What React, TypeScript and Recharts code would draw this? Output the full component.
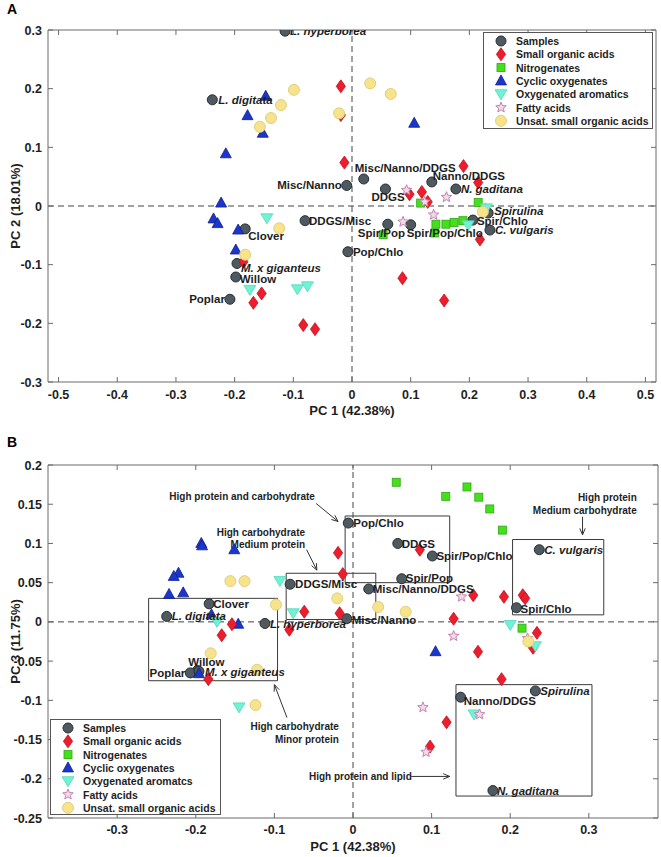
import React from 'react'
import {
  ScatterChart,
  Scatter,
  XAxis,
  YAxis,
  ReferenceLine,
  ReferenceArea,
  ReferenceDot
} from 'recharts'

const FONT = '"Liberation Sans", Arial, Helvetica, sans-serif'
const AXIS = '#6a6a6a'
const TXT = '#1e1e1e'

// ---------- panel A: PC1 vs PC2 ----------
const samplesA = [
  { name: 'L. hyperborea', x: -0.114, y: 0.298 },
  { name: 'L. digitata', x: -0.238, y: 0.181 },
  { name: 'Misc/Nanno', x: -0.009, y: 0.035 },
  { name: 'Misc/Nanno/DDGS', x: 0.02, y: 0.046 },
  { name: 'DDGS', x: 0.057, y: 0.029 },
  { name: 'Nanno/DDGS', x: 0.136, y: 0.041 },
  { name: 'N. gaditana', x: 0.177, y: 0.029 },
  { name: 'Spirulina', x: 0.232, y: -0.012 },
  { name: 'Spir/Chlo', x: 0.206, y: -0.024 },
  { name: 'C. vulgaris', x: 0.235, y: -0.041 },
  { name: 'Spir/Pop', x: 0.061, y: -0.031 },
  { name: 'Spir/Pop/Chlo', x: 0.1, y: -0.032 },
  { name: 'DDGS/Misc', x: -0.08, y: -0.025 },
  { name: 'Pop/Chlo', x: -0.007, y: -0.078 },
  { name: 'Clover', x: -0.182, y: -0.039 },
  { name: 'M. x giganteus', x: -0.196, y: -0.098 },
  { name: 'Willow', x: -0.198, y: -0.121 },
  { name: 'Poplar', x: -0.208, y: -0.159 }
]
const acidsA = [
  [-0.019, 0.204], [-0.019, 0.155], [-0.013, 0.074], [0.19, 0.068], [0.215, 0.04],
  [0.098, 0.02], [0.119, 0.024], [0.129, 0.007], [0.227, -0.007], [0.218, -0.057],
  [0.086, -0.123], [0.157, -0.161], [-0.185, -0.095], [-0.154, -0.149], [-0.168, -0.165],
  [-0.083, -0.203], [-0.063, -0.21]
]
const nitroA = [
  [0.117, 0.005], [0.215, 0.006], [0.143, -0.031], [0.16, -0.031], [0.174, -0.028],
  [0.189, -0.025], [0.053, -0.049], [0.141, -0.046]
]
const cyclicA = [
  [-0.147, 0.187], [-0.178, 0.154], [-0.152, 0.124], [-0.215, 0.089], [0.106, 0.141],
  [-0.223, 0.005], [-0.236, -0.022], [-0.229, -0.03], [-0.194, -0.041], [-0.198, -0.075]
]
const aromA = [
  [-0.145, -0.021], [-0.174, -0.143], [-0.093, -0.142], [-0.076, -0.137], [0.198, -0.033],
  [0.229, -0.004]
]
const fattyA = [[0.093, 0.027], [0.124, 0.007], [0.161, 0.015], [0.139, -0.015], [0.087, -0.027]]
const unsatA = [
  [-0.099, 0.198], [-0.121, 0.172], [-0.138, 0.15], [-0.157, 0.135], [0.031, 0.209],
  [0.066, 0.191], [-0.022, 0.158], [-0.124, -0.038], [-0.182, -0.083], [0.223, -0.01]
]
const xTicksA = [-0.5, -0.4, -0.3, -0.2, -0.1, 0, 0.1, 0.2, 0.3, 0.4, 0.5]
const yTicksA = [-0.3, -0.2, -0.1, 0, 0.1, 0.2, 0.3]

// ---------- panel B: PC1 vs PC3 ----------
const samplesB = [
  { name: 'Pop/Chlo', x: -0.006, y: 0.126 },
  { name: 'DDGS', x: 0.057, y: 0.1 },
  { name: 'Spir/Pop/Chlo', x: 0.101, y: 0.084 },
  { name: 'Spir/Pop', x: 0.062, y: 0.055 },
  { name: 'Misc/Nanno/DDGS', x: 0.02, y: 0.042 },
  { name: 'C. vulgaris', x: 0.237, y: 0.092 },
  { name: 'Spir/Chlo', x: 0.208, y: 0.018 },
  { name: 'Misc/Nanno', x: -0.008, y: 0.004 },
  { name: 'DDGS/Misc', x: -0.08, y: 0.048 },
  { name: 'Clover', x: -0.183, y: 0.023 },
  { name: 'L. digitata', x: -0.237, y: 0.007 },
  { name: 'L. hyperborea', x: -0.112, y: -0.002 },
  { name: 'Willow', x: -0.198, y: -0.062 },
  { name: 'Poplar', x: -0.207, y: -0.065 },
  { name: 'M. x giganteus', x: -0.196, y: -0.063 },
  { name: 'Spirulina', x: 0.232, y: -0.088 },
  { name: 'Nanno/DDGS', x: 0.137, y: -0.096 },
  { name: 'N. gaditana', x: 0.178, y: -0.215 }
]
const acidsB = [
  [-0.019, 0.088], [-0.013, 0.061], [0.085, 0.092], [0.153, 0.034], [0.192, 0.032],
  [0.216, 0.034], [0.219, 0.03], [-0.062, 0.013], [-0.017, 0.011], [0.128, 0.004],
  [0.234, -0.014], [0.159, -0.038], [0.229, -0.033], [0.189, -0.073], [0.119, -0.128],
  [0.098, -0.159], [-0.081, -0.01], [-0.154, -0.003], [-0.167, -0.017], [-0.184, -0.073]
]
const nitroB = [
  [0.055, 0.178], [0.118, 0.16], [0.145, 0.172], [0.16, 0.159], [0.174, 0.144],
  [0.19, 0.117], [0.215, -0.008]
]
const cyclicB = [
  [-0.193, 0.1], [-0.192, 0.097], [-0.151, 0.092], [-0.222, 0.062], [-0.228, 0.058],
  [-0.234, 0.035], [-0.216, 0.037], [-0.18, 0.009], [-0.146, -0.003], [-0.196, -0.066],
  [0.105, -0.038]
]
const aromB = [
  [-0.093, 0.052], [-0.076, 0.011], [-0.173, 0.0], [-0.145, -0.109], [0.2, -0.004],
  [0.232, -0.031], [0.154, -0.118]
]
const fattyB = [
  [0.138, 0.032], [0.128, -0.018], [0.089, -0.109], [0.161, -0.118], [0.093, -0.166],
  [0.222, -0.021]
]
const unsatB = [
  [-0.156, 0.052], [-0.138, 0.052], [-0.098, 0.022], [-0.02, 0.03], [0.032, 0.019],
  [0.067, 0.013], [-0.181, -0.04], [-0.122, -0.061], [-0.124, -0.106], [0.223, -0.025]
]
const xTicksB = [-0.3, -0.2, -0.1, 0, 0.1, 0.2, 0.3]
const yTicksB = [-0.25, -0.2, -0.15, -0.1, -0.05, 0, 0.05, 0.1, 0.15, 0.2]

// group boxes [x1, x2, y1, y2] and arrows [xFrom, yFrom, xTo, yTo] in panel B
const boxesB = [
  [-0.01, 0.123, 0.05, 0.135],
  [-0.085, 0.029, 0.003, 0.062],
  [-0.26, -0.096, -0.075, 0.03],
  [0.203, 0.319, 0.009, 0.105],
  [0.131, 0.304, -0.222, -0.08]
]
const arrowsB = [
  [-0.047, 0.151, -0.019, 0.128],
  [-0.059, 0.092, -0.046, 0.066],
  [0.292, 0.134, 0.292, 0.111],
  [-0.084, -0.122, -0.1, -0.08],
  [0.074, -0.197, 0.123, -0.197]
]
const notesB = [
  { lines: ['High protein and carbohydrate'], x: -0.141, y: 0.155 },
  { lines: ['High carbohydrate', 'Medium protein'], x: -0.061, y: 0.11 },
  { lines: ['High protein', 'Medium carbohydrate'], x: 0.361, y: 0.154 },
  { lines: ['High carbohydrate', 'Minor protein'], x: -0.018, y: -0.138 },
  { lines: ['High protein and lipid'], x: -0.056, y: -0.201 }
]
const noteAnchor = ['middle', 'end', 'end', 'end', 'start']

const italicNames = ['L. hyperborea', 'L. digitata', 'N. gaditana', 'Spirulina', 'C. vulgaris', 'M. x giganteus']

// label offsets from the point centre: [dx, dy, anchor]
const labelPosA: Record<string, [number, number, string?]> = {
  'L. hyperborea': [5, 4],
  'L. digitata': [6, 4],
  'Misc/Nanno': [-5, 4, 'end'],
  'Misc/Nanno/DDGS': [-9, -7],
  'DDGS': [-14, 12],
  'Nanno/DDGS': [1, -2],
  'N. gaditana': [5, 4],
  'Spirulina': [6, 2],
  'Spir/Chlo': [4, 5],
  'C. vulgaris': [5, 4],
  'Spir/Pop': [-30, 13],
  'Spir/Pop/Chlo': [-4, 12],
  'DDGS/Misc': [4, 4],
  'Pop/Chlo': [5, 4],
  'Clover': [3, 11],
  'M. x giganteus': [4, 9],
  'Willow': [4, 6],
  'Poplar': [-5, 4, 'end']
}
const labelPosB: Record<string, [number, number, string?]> = {
  'Pop/Chlo': [5, 4],
  'DDGS': [4, 5],
  'Spir/Pop/Chlo': [4, 4],
  'Spir/Pop': [4, 3],
  'Misc/Nanno/DDGS': [4, 4],
  'C. vulgaris': [5, 4],
  'Spir/Chlo': [4, 5],
  'Misc/Nanno': [5, 5],
  'DDGS/Misc': [5, 4],
  'Clover': [4, 4],
  'L. digitata': [5, 4],
  'L. hyperborea': [5, 5],
  'Willow': [9, -5, 'middle'],
  'Poplar': [-5, 4, 'end'],
  'M. x giganteus': [6, 5],
  'Spirulina': [5, 4],
  'Nanno/DDGS': [3, 8],
  'N. gaditana': [4, 4]
}

const pts = (arr: number[][]) => arr.map(([x, y]) => ({ x, y }))

// ---------- marker shapes ----------
const SampleDot = ({ cx, cy }: any) => (
  <circle cx={cx} cy={cy} r={5} fill="#4e5a5f" stroke="#252e31" strokeWidth={1} />
)
const Diamond = ({ cx, cy }: any) => (
  <path d={`M${cx},${cy - 6.5}L${cx + 4.6},${cy}L${cx},${cy + 6.5}L${cx - 4.6},${cy}Z`} fill="#ee1d2d" stroke="#c0101c" strokeWidth={0.8} />
)
const Square = ({ cx, cy }: any) => (
  <rect x={cx - 4} y={cy - 4} width={8} height={8} fill="#45e01c" stroke="#2ea812" strokeWidth={0.8} />
)
const TriUp = ({ cx, cy }: any) => (
  <path d={`M${cx},${cy - 6}L${cx + 5.5},${cy + 4}L${cx - 5.5},${cy + 4}Z`} fill="#1c36cb" stroke="#0f1f8c" strokeWidth={0.8} />
)
const TriDown = ({ cx, cy }: any) => (
  <path d={`M${cx - 6},${cy - 4.5}L${cx + 6},${cy - 4.5}L${cx},${cy + 5.5}Z`} fill="#6ff3d4" stroke="#55d6b8" strokeWidth={0.8} />
)
const Star = ({ cx, cy }: any) => {
  let d = ''
  for (let i = 0; i < 10; i++) {
    const r = i % 2 === 0 ? 5.5 : 2.4
    const a = -Math.PI / 2 + (i * Math.PI) / 5
    d += `${i === 0 ? 'M' : 'L'}${cx + r * Math.cos(a)},${cy + r * Math.sin(a)}`
  }
  return <path d={d + 'Z'} fill="#f1dbe8" stroke="#c483af" strokeWidth={1} />
}
const Yellow = ({ cx, cy }: any) => (
  <circle cx={cx} cy={cy} r={5.5} fill="#f6e38b" stroke="#e2cf7c" strokeWidth={1} />
)

const makeLabel = (pos: Record<string, [number, number, string?]>) => (p: any) => {
  const name = p.payload.name
  const [dx, dy, anchor] = pos[name] || [5, 4]
  return (
    <text
      x={p.cx + dx}
      y={p.cy + dy}
      textAnchor={anchor || 'start'}
      fontFamily={FONT}
      fontSize={11.5}
      fontWeight="bold"
      fontStyle={italicNames.includes(name) ? 'italic' : 'normal'}
      fill={TXT}
    >
      {name}
    </text>
  )
}

// inward ticks on both sides of the box, labels outside
const makeXTick = (plotH: number, dy: number) => (p: any) => (
  <g>
    <line x1={p.x} y1={p.y} x2={p.x} y2={p.y - 5} stroke={AXIS} />
    <line x1={p.x} y1={p.y - plotH} x2={p.x} y2={p.y - plotH + 5} stroke={AXIS} />
    <text x={p.x} y={p.y + dy} textAnchor="middle" fontFamily={FONT} fontSize={12.5} fontWeight="bold" fill={TXT}>
      {p.payload.value}
    </text>
  </g>
)
const makeYTick = (plotW: number) => (p: any) => (
  <g>
    <line x1={p.x} y1={p.y} x2={p.x + 5} y2={p.y} stroke={AXIS} />
    <line x1={p.x + plotW} y1={p.y} x2={p.x + plotW - 5} y2={p.y} stroke={AXIS} />
    <text x={p.x - 6} y={p.y + 4.5} textAnchor="end" fontFamily={FONT} fontSize={12.5} fontWeight="bold" fill={TXT}>
      {p.payload.value}
    </text>
  </g>
)

const xTitle = (text: string) => (p: any) => {
  const vb = p.viewBox
  return (
    <text x={vb.x + vb.width / 2} y={vb.y + 33} textAnchor="middle" fontFamily={FONT} fontSize={13} fontWeight="bold" fill={TXT}>
      {text}
    </text>
  )
}
const yTitle = (text: string) => (p: any) => {
  const vb = p.viewBox
  const cy = vb.y + vb.height / 2
  return (
    <text x={15} y={cy} transform={`rotate(-90 15 ${cy})`} textAnchor="middle" dominantBaseline="central" fontFamily={FONT} fontSize={13} fontWeight="bold" fill={TXT}>
      {text}
    </text>
  )
}

const Arrow = (p: any) => {
  const { x1, y1, x2, y2 } = p
  const a = Math.atan2(y2 - y1, x2 - x1)
  const h = 7
  const l = `${x2 - h * Math.cos(a - 0.4)},${y2 - h * Math.sin(a - 0.4)}`
  const r = `${x2 - h * Math.cos(a + 0.4)},${y2 - h * Math.sin(a + 0.4)}`
  return (
    <g>
      <line x1={x1} y1={y1} x2={x2} y2={y2} stroke="#333" strokeWidth={1} />
      <path d={`M${l}L${x2},${y2}L${r}`} fill="none" stroke="#333" strokeWidth={1} />
    </g>
  )
}

const legendItems = (aromLabel: string) => [
  { label: 'Samples', Icon: SampleDot },
  { label: 'Small organic acids', Icon: Diamond },
  { label: 'Nitrogenates', Icon: Square },
  { label: 'Cyclic oxygenates', Icon: TriUp },
  { label: aromLabel, Icon: TriDown },
  { label: 'Fatty acids', Icon: Star },
  { label: 'Unsat. small organic acids', Icon: Yellow }
]

function LegendBox({ left, top, width, height, aromLabel }: any) {
  return (
    <div style={{ position: 'absolute', left, top }}>
      <svg width={width} height={height}>
        <rect x={0.5} y={0.5} width={width - 1} height={height - 1} fill="#fff" stroke="#555" />
        {legendItems(aromLabel).map(({ label, Icon }, i) => {
          const cy = 9 + i * 13.3
          return (
            <g key={label}>
              <Icon cx={18} cy={cy} />
              <text x={33} y={cy + 4} fontFamily={FONT} fontSize={10.5} fontWeight="bold" fill={TXT}>
                {label}
              </text>
            </g>
          )
        })}
      </svg>
    </div>
  )
}

const seriesFor = (s: any) => [
  <Scatter key="samples" data={s.samples} shape={SampleDot} isAnimationActive={false} />,
  <Scatter key="nitro" data={pts(s.nitro)} shape={Square} isAnimationActive={false} />,
  <Scatter key="cyclic" data={pts(s.cyclic)} shape={TriUp} isAnimationActive={false} />,
  <Scatter key="acids" data={pts(s.acids)} shape={Diamond} isAnimationActive={false} />,
  <Scatter key="arom" data={pts(s.arom)} shape={TriDown} isAnimationActive={false} />,
  <Scatter key="fatty" data={pts(s.fatty)} shape={Star} isAnimationActive={false} />,
  <Scatter key="unsat" data={pts(s.unsat)} shape={Yellow} isAnimationActive={false} />,
  <Scatter key="labels" data={s.samples} shape={makeLabel(s.labels)} isAnimationActive={false} />
]

export default function App() {
  const xdA = [-0.518, 0.518]
  const ydA = [-0.3, 0.3]
  const xdB = [-0.388, 0.388]
  const ydB = [-0.25, 0.2]

  return (
    <div style={{ position: 'absolute', left: 0, top: 0, width: 661, height: 857, background: '#fff', fontFamily: FONT }}>
      <div style={{ position: 'absolute', left: 7, top: 1, fontSize: 14, lineHeight: '16px', fontWeight: 'bold' }}>A</div>
      <div style={{ position: 'absolute', left: 7, top: 434, fontSize: 14, lineHeight: '16px', fontWeight: 'bold' }}>B</div>

      <div style={{ position: 'absolute', left: 0, top: 0 }}>
        <ScatterChart width={661} height={420} margin={{ top: 30, right: 5, bottom: 8, left: 0 }}>
          <XAxis
            type="number"
            dataKey="x"
            domain={xdA}
            ticks={xTicksA}
            interval={0}
            allowDataOverflow
            height={30}
            axisLine={false}
            tickLine={false}
            tickSize={0}
            tickMargin={0}
            tick={makeXTick(352, 17)}
            label={{ value: 'PC 1 (42.38%)', content: xTitle('PC 1 (42.38%)') }}
          />
          <YAxis
            type="number"
            dataKey="y"
            domain={ydA}
            ticks={yTicksA}
            interval={0}
            allowDataOverflow
            width={48}
            axisLine={false}
            tickLine={false}
            tickSize={0}
            tickMargin={0}
            tick={makeYTick(608)}
            label={{ value: 'PC 2 (18.01%)', content: yTitle('PC 2 (18.01%)') }}
          />
          <ReferenceArea x1={xdA[0]} x2={xdA[1]} y1={ydA[0]} y2={ydA[1]} fill="none" stroke={AXIS} ifOverflow="visible" />
          <ReferenceLine x={0} stroke="#444" strokeDasharray="6 4" />
          <ReferenceLine y={0} stroke="#444" strokeDasharray="6 4" />
          {seriesFor({
            samples: samplesA, nitro: nitroA, cyclic: cyclicA, acids: acidsA,
            arom: aromA, fatty: fattyA, unsat: unsatA, labels: labelPosA
          })}
        </ScatterChart>
      </div>
      <LegendBox left={483} top={32} width={170} height={97} aromLabel="Oxygenated aromatics" />

      <div style={{ position: 'absolute', left: 0, top: 420 }}>
        <ScatterChart width={661} height={437} margin={{ top: 45, right: 3, bottom: 9, left: 0 }}>
          <XAxis
            type="number"
            dataKey="x"
            domain={xdB}
            ticks={xTicksB}
            interval={0}
            allowDataOverflow
            height={30}
            axisLine={false}
            tickLine={false}
            tickSize={0}
            tickMargin={0}
            tick={makeXTick(353, 16)}
            label={{ value: 'PC 1 (42.38%)', content: xTitle('PC 1 (42.38%)') }}
          />
          <YAxis
            type="number"
            dataKey="y"
            domain={ydB}
            ticks={yTicksB}
            interval={0}
            allowDataOverflow
            width={48}
            axisLine={false}
            tickLine={false}
            tickSize={0}
            tickMargin={0}
            tick={makeYTick(610)}
            label={{ value: 'PC 3 (11.75%)', content: yTitle('PC 3 (11.75%)') }}
          />
          <ReferenceArea x1={xdB[0]} x2={xdB[1]} y1={ydB[0]} y2={ydB[1]} fill="none" stroke={AXIS} ifOverflow="visible" />
          <ReferenceLine x={0} stroke="#444" strokeDasharray="6 4" />
          <ReferenceLine y={0} stroke="#444" strokeDasharray="6 4" />
          {boxesB.map(([x1, x2, y1, y2], i) => (
            <ReferenceArea key={'box' + i} x1={x1} x2={x2} y1={y1} y2={y2} fill="none" stroke="#3a3a3a" strokeWidth={1} ifOverflow="visible" />
          ))}
          {arrowsB.map(([xa, ya, xb, yb], i) => (
            <ReferenceLine key={'arr' + i} segment={[{ x: xa, y: ya }, { x: xb, y: yb }]} shape={Arrow} ifOverflow="visible" />
          ))}
          {notesB.map((n, i) => (
            <ReferenceDot
              key={'note' + i}
              x={n.x}
              y={n.y}
              r={0}
              ifOverflow="visible"
              shape={(p: any) => (
                <text x={p.cx} y={p.cy} textAnchor={noteAnchor[i]} fontFamily={FONT} fontSize={10} fontWeight="bold" fill={TXT}>
                  {n.lines.map((ln, j) => (
                    <tspan key={j} x={p.cx} dy={j === 0 ? 0 : 12.5}>{ln}</tspan>
                  ))}
                </text>
              )}
            />
          ))}
          {seriesFor({
            samples: samplesB, nitro: nitroB, cyclic: cyclicB, acids: acidsB,
            arom: aromB, fatty: fattyB, unsat: unsatB, labels: labelPosB
          })}
        </ScatterChart>
      </div>
      <LegendBox left={50} top={719} width={171} height={96} aromLabel="Oxygenated aromatcs" />
    </div>
  )
}
